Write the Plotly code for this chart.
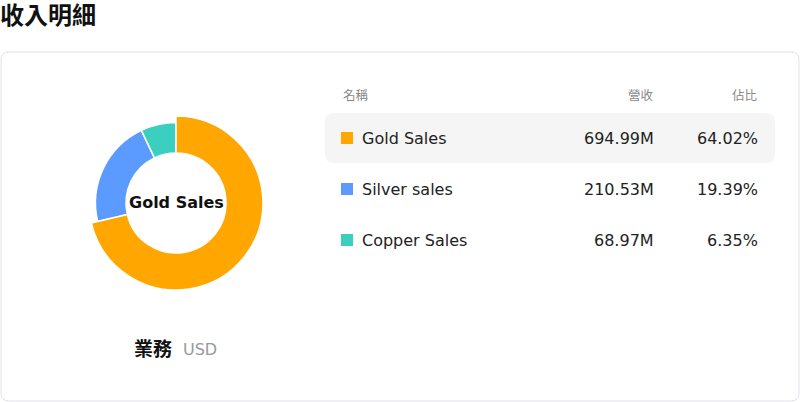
import plotly.graph_objects as go

# data
names = ["Gold Sales", "Silver sales", "Copper Sales"]
revenue = [694.99, 210.53, 68.97]          # M USD
share = [64.02, 19.39, 6.35]               # %
colors = ["#FFA600", "#5B9BFF", "#3ACFBF"]
headers = ["名稱", "營收", "佔比"]
title = "收入明細"
center_label = "Gold Sales"
footer_label = "業務"
footer_unit = "USD"

W, H = 800, 402
FONT = "DejaVu Sans, Noto Sans CJK TC, sans-serif"

fig = go.Figure()


def dom(cx, cy, r):
    return dict(x=[(cx - r) / W, (cx + r) / W], y=[1 - (cy + r) / H, 1 - (cy - r) / H])


cx, cy = 176, 203
# base donut
fig.add_trace(go.Pie(
    labels=names, values=revenue, sort=False, direction="clockwise", rotation=0,
    hole=50 / 80.5, domain=dom(cx, cy, 80.5), textinfo="none", showlegend=False,
    marker=dict(colors=colors, line=dict(color="white", width=1.5)),
))
# highlighted slice (emphasis, slightly bigger)
fig.add_trace(go.Pie(
    labels=names, values=revenue, sort=False, direction="clockwise", rotation=0,
    hole=50 / 87, domain=dom(cx, cy, 87), textinfo="none", showlegend=False,
    marker=dict(colors=[colors[0], "rgba(0,0,0,0)", "rgba(0,0,0,0)"],
                line=dict(color="white", width=[1.5, 0, 0])),
))

# invisible pixel axes for shapes/text
fig.add_trace(go.Scatter(x=[0], y=[0], mode="markers", marker=dict(opacity=0),
                         showlegend=False, hoverinfo="skip"))


def rrect(x0, y0, x1, y1, r):
    return (f"M{x0 + r},{y0} L{x1 - r},{y0} Q{x1},{y0} {x1},{y0 + r} "
            f"L{x1},{y1 - r} Q{x1},{y1} {x1 - r},{y1} L{x0 + r},{y1} "
            f"Q{x0},{y1} {x0},{y1 - r} L{x0},{y0 + r} Q{x0},{y0} {x0 + r},{y0} Z")


shapes = [
    dict(type="path", path=rrect(1, 52, 799, 401, 8), xref="x", yref="y",
         line=dict(color="#E0E0EA", width=1), fillcolor="rgba(0,0,0,0)", layer="below"),
    dict(type="path", path=rrect(325, 113, 775, 163, 9), xref="x", yref="y",
         line=dict(width=0), fillcolor="#F5F5F5", layer="below"),
]

ann = [
    dict(x=0, y=16, text=f"<b>{title}</b>", xanchor="left", xshift=-2,
         font=dict(size=24, color="#111")),
    dict(x=cx, y=202, text=f"<b>{center_label}</b>", font=dict(size=16, color="#111")),
    dict(x=174, y=349, text=f"<b>{footer_label}</b>", xanchor="right",
         font=dict(size=19, color="#111")),
    dict(x=181, y=349, text=footer_unit, xanchor="left", font=dict(size=16, color="#999")),
    dict(x=341, y=95, text=headers[0], xanchor="left", font=dict(size=12.5, color="#888")),
    dict(x=656, y=95, text=headers[1], xanchor="right", font=dict(size=12.5, color="#888")),
    dict(x=760, y=95, text=headers[2], xanchor="right", font=dict(size=12.5, color="#888")),
]

row_y = [138, 189, 240]
for n, v, s, c, y in zip(names, revenue, share, colors, row_y):
    shapes.append(dict(type="rect", x0=341, x1=353, y0=y - 6, y1=y + 6, xref="x", yref="y",
                       line=dict(width=0), fillcolor=c))
    ann.append(dict(x=360, y=y, text=n, xanchor="left", font=dict(size=16, color="#222")))
    ann.append(dict(x=656, y=y, text=f"{v:.2f}M", xanchor="right", font=dict(size=16, color="#222")))
    ann.append(dict(x=760, y=y, text=f"{s:.2f}%", xanchor="right", font=dict(size=16, color="#222")))

for a in ann:
    a.update(xref="x", yref="y", showarrow=False, yanchor="middle")

fig.update_layout(
    width=W, height=H, margin=dict(l=0, r=0, t=0, b=0),
    paper_bgcolor="white", plot_bgcolor="white",
    font=dict(family=FONT),
    xaxis=dict(range=[0, W], visible=False, fixedrange=True),
    yaxis=dict(range=[H, 0], visible=False, fixedrange=True),
    shapes=shapes, annotations=ann,
)

fig.write_html("out.html", config={"displayModeBar": False},
               post_script="document.body.style.margin='0';document.body.style.padding='0';")
